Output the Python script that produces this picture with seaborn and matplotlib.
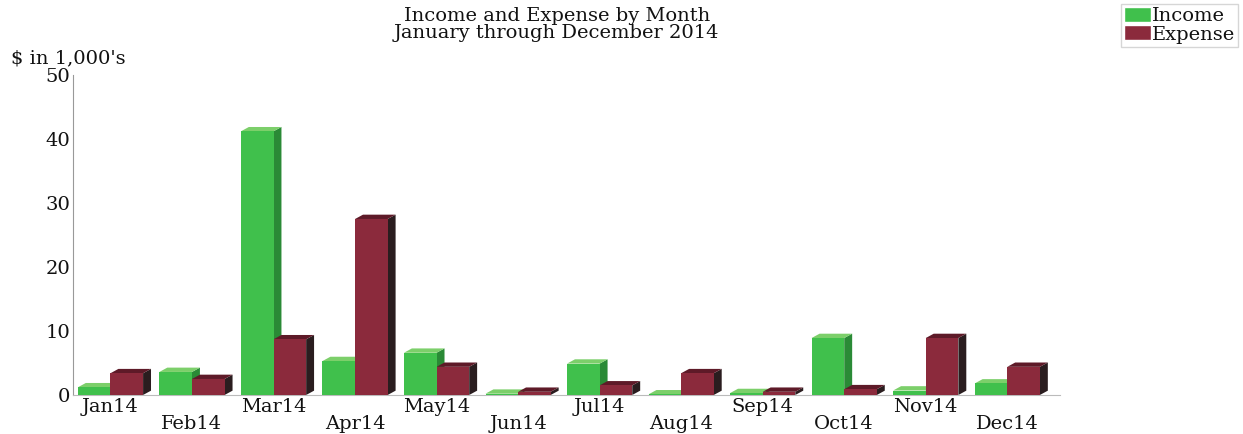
import matplotlib
matplotlib.use("Agg")
import matplotlib.pyplot as plt
from matplotlib.patches import Polygon, Patch
import seaborn as sns
import pandas as pd

# Monthly totals, $ in 1,000's
months = ["Jan14", "Feb14", "Mar14", "Apr14", "May14", "Jun14",
          "Jul14", "Aug14", "Sep14", "Oct14", "Nov14", "Dec14"]
income = [1.2, 3.6, 41.2, 5.3, 6.6, 0.2, 4.9, 0.1, 0.3, 8.9, 0.7, 1.8]
expense = [3.4, 2.5, 8.7, 27.5, 4.4, 0.5, 1.5, 3.4, 0.5, 0.9, 8.9, 4.4]

df = pd.DataFrame({
    "Month": months * 2,
    "Amount": income + expense,
    "Kind": ["Income"] * len(months) + ["Expense"] * len(months),
})

front = {"Income": "#40c04c", "Expense": "#8b2a3c"}
side = {"Income": "#2a8a36", "Expense": "#2a1d1f"}
top = {"Income": "#7ccf6a", "Expense": "#5e1a28"}

sns.set_style("white")
plt.rcParams["font.family"] = ["DejaVu Serif"]
plt.rcParams["text.color"] = "#111111"
plt.rcParams["xtick.color"] = "#111111"
plt.rcParams["ytick.color"] = "#111111"

fig = plt.figure(figsize=(12.43, 4.34), dpi=100)
ax = fig.add_axes([0.0587, 0.0899, 0.7943, 0.7373])

sns.barplot(data=df, x="Month", y="Amount", hue="Kind", palette=front,
            saturation=1, legend=False, ax=ax, zorder=3, linewidth=0)

# fake 3D depth: side and top faces behind each bar (offset in pixels)
dx, dy = 8, 5
kinds = ["Income"] * len(months) + ["Expense"] * len(months)
a = ax.transData.transform
inv = ax.transData.inverted().transform
for p, k in zip(ax.patches, kinds):
    x0, y0 = p.get_x(), p.get_y()
    x1, y1 = x0 + p.get_width(), y0 + p.get_height()
    sidep = [a((x1, y0)), a((x1, y1)), a((x1, y1)) + (dx, dy), a((x1, y0)) + (dx, dy)]
    topp = [a((x0, y1)), a((x1, y1)), a((x1, y1)) + (dx, dy), a((x0, y1)) + (dx, dy)]
    ax.add_patch(Polygon([inv(q) for q in sidep], closed=True, facecolor=side[k],
                         edgecolor="none", zorder=2))
    ax.add_patch(Polygon([inv(q) for q in topp], closed=True, facecolor=top[k],
                         edgecolor="none", zorder=2))

ax.set_xlim(-0.46, 11.65)
ax.set_ylim(0, 50)
ax.set_yticks([0, 10, 20, 30, 40, 50])
ax.set_yticklabels(["0", "10", "20", "30", "40", "50"], fontsize=14)
ax.set_xticks(range(len(months)))
ax.set_xticklabels([m if i % 2 == 0 else "\n" + m for i, m in enumerate(months)],
                   fontsize=14, linespacing=0.95)
ax.tick_params(axis="both", length=0, pad=2)
ax.set_xlabel("")
ax.set_ylabel("")

for s in ["top", "right"]:
    ax.spines[s].set_visible(False)
ax.spines["left"].set_color("#999999")
ax.spines["left"].set_linewidth(0.8)
ax.spines["bottom"].set_color("#bbbbbb")
ax.spines["bottom"].set_linewidth(0.8)

fig.text(0.448, 0.985, "Income and Expense by Month\nJanuary through December 2014",
         ha="center", va="top", fontsize=14, linespacing=0.95)
fig.text(0.009, 0.845, "$ in 1,000's", ha="left", va="bottom", fontsize=14)

handles = [Patch(facecolor=front["Income"], label="Income"),
           Patch(facecolor=front["Expense"], label="Expense")]
fig.legend(handles=handles, loc="upper right", bbox_to_anchor=(0.996, 0.99),
           fontsize=14, frameon=True, fancybox=False, edgecolor="#cccccc",
           handlelength=1.4, handleheight=0.8, handletextpad=0.05,
           labelspacing=0.0, borderpad=0.15, borderaxespad=0)

fig.savefig("out.png", dpi=100)
